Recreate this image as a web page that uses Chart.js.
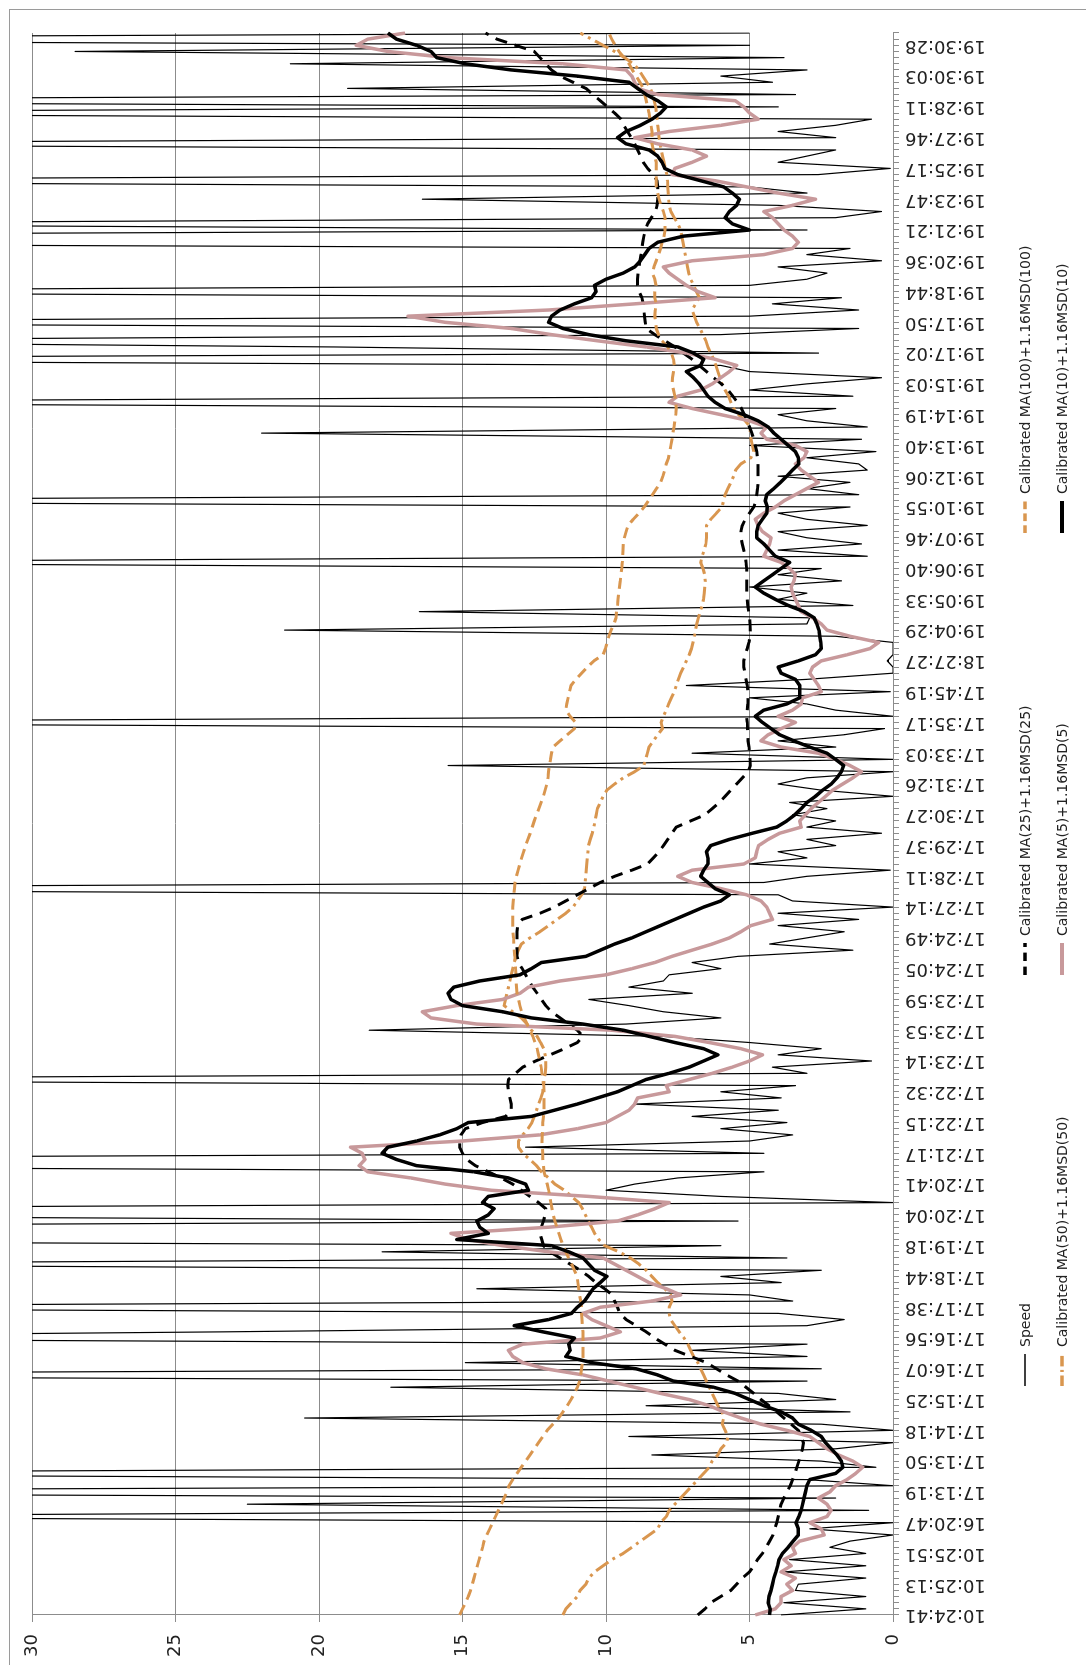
<!DOCTYPE html>
<html>
<head>
<meta charset="utf-8">
<script src="https://cdn.jsdelivr.net/npm/chart.js@4.4.1/dist/chart.umd.min.js"></script>
<style>
  html, body { margin:0; padding:0; background:#fff; width:1086px; height:1665px; overflow:hidden; }
  #frame { position:absolute; left:9px; top:9px; width:1200px; height:1800px; border-left:1px solid #9a9a9a; border-top:1px solid #9a9a9a; }
  #rot { position:absolute; left:0; top:0; width:1665px; height:1086px; transform-origin:0 0; transform:translate(0px,1665px) rotate(-90deg); }
  #rot canvas { position:absolute; left:0; top:0; }
  .lg { position:absolute; display:flex; align-items:center; height:20px; font-family:"DejaVu Sans"; font-size:14px; color:#222; white-space:nowrap; }
  .lg svg { margin-right:7px; }
</style>
</head>
<body>
<div id="frame"></div>
<div id="rot">
  <canvas id="c" width="1665" height="1086"></canvas>
</div>
<script>
const tickLabels = ["10:24:41","10:25:13","10:25:51","16:20:47","17:13:19","17:13:50","17:14:18","17:15:25","17:16:07","17:16:56","17:17:38","17:18:44","17:19:18","17:20:04","17:20:41","17:21:17","17:22:15","17:22:32","17:23:14","17:23:53","17:23:59","17:24:05","17:24:49","17:27:14","17:28:11","17:29:37","17:30:27","17:31:26","17:33:03","17:35:17","17:45:19","18:27:27","19:04:29","19:05:33","19:06:40","19:07:46","19:10:55","19:12:06","19:13:40","19:14:19","19:15:03","19:17:02","19:17:50","19:18:44","19:20:36","19:21:21","19:23:47","19:25:17","19:27:46","19:28:11","19:30:03","19:30:28"];
const labelEvery = 5;

const speed = [
3.9,0.95,3.8,0.95,3.4,3.3,0.95,3.8,0.95,3.6,0.95,2.2,1.5,0,2.9,0,45,0.85,22.5,2,60,0,3,50,0.6,2.5,8.4,2,0,9.2,0,2.5,20.5,1.5,8.6,2,4,17.5,3,55,2.5,14.9,3,7,
3,48,23.3,3,1.7,4,52,3.5,5,14.5,3.9,6,2.5,45,3.7,17.8,6,60,70,55,5.4,50,48,0,6,10,9,7.5,4.5,52,58,4.5,12.8,5,3.5,6,3.7,7,4,9,3.9,6,
3.4,50,3,4.2,0.75,4,2.5,5,8,18.25,9.3,6,8,9.2,10.6,7,9.2,8,7.8,6,7,5.4,1.4,4.3,3,1.7,4,1.2,4,0,3.5,4,55,4.5,3,0.1,5,3,4,2,3,0.4,3,
2,3.5,2.3,3.6,0,2.5,4,3,0,15.5,0,7,2,4,1.7,0.3,50,0,2,3,5,0.1,7.2,3,0,0,0.2,0,0,0,2,21.2,3,2.9,16.5,1.4,4,3,5,1.8,4,2.5,45,
0.9,4,1.1,3,4,0.9,3,4,1.5,50,1.2,3,1.5,4,0.9,1.2,3,0.6,5,1.1,22,0.9,3,4,2,48,1.4,5,3,0.4,5,6,55,2.6,19.5,45,6,1.2,52,5,1.2,4.2,1.8,
50,5,3,2.3,4,0.4,3,1.5,60,55,3,45,2,0.4,4,16.4,3,5,52,2.6,0.1,4,3,2,48,2,4,2,0.75,50,4,55,3.4,19,4.2,6,3,21,3.8,28.5,5,60,5
];

const ma50 = [
11.5,11.4,11.2,11.0,10.9,10.7,10.6,10.4,10.1,9.8,9.4,9.1,8.8,8.5,8.2,8.1,7.9,7.8,7.6,7.4,7.2,7.0,6.8,6.6,6.4,6.3,6.1,6.0,5.8,5.75,5.85,5.95,5.9,5.95,6.1,6.2,6.3,6.4,6.5,6.6,6.7,6.8,6.95,7.05,
7.15,7.28,7.45,7.6,7.75,7.8,7.8,7.7,7.75,7.95,8.2,8.4,8.6,8.85,9.15,9.55,10.05,10.25,10.4,10.5,10.62,10.72,10.82,10.95,11.2,11.45,11.78,12.0,12.25,12.42,12.65,12.9,13.05,13.05,12.9,12.72,12.58,12.5,12.42,12.35,12.27,12.2,
12.18,12.15,12.12,12.1,12.1,12.12,12.17,12.28,12.4,12.6,12.75,12.95,13.25,13.55,13.5,13.45,13.4,13.35,13.3,13.25,13.2,13.13,13.05,12.95,12.65,12.3,12.0,11.7,11.4,11.15,11.0,10.85,10.75,10.73,10.71,10.69,10.67,10.65,10.63,10.61,10.55,10.48,10.42,
10.38,10.34,10.3,10.2,10.1,9.97,9.7,9.4,9.0,8.68,8.62,8.56,8.5,8.35,8.2,8.03,8.08,8.0,7.9,7.82,7.72,7.62,7.55,7.48,7.4,7.3,7.2,7.1,7.02,6.97,6.92,6.88,6.84,6.78,6.72,6.65,6.6,6.58,6.56,6.54,6.56,6.62,6.7,
6.65,6.58,6.52,6.5,6.5,6.5,6.35,6.15,5.96,5.9,5.85,5.75,5.65,5.55,5.48,5.3,4.95,4.85,4.9,4.95,4.97,4.97,5.15,5.38,5.55,5.65,5.73,5.85,5.96,6.03,6.1,6.17,6.25,6.35,6.45,6.52,6.62,6.73,6.84,6.92,7.0,6.88,6.75,
6.85,6.95,7.05,7.12,7.16,7.2,7.24,7.28,7.32,7.36,7.4,7.5,7.62,7.74,7.8,7.82,7.83,7.85,7.86,7.88,7.93,7.98,8.03,8.08,8.12,8.15,8.17,8.2,8.22,8.24,8.27,8.32,8.37,8.45,8.58,8.72,8.85,9.05,9.35,9.7,10.1,10.5,10.9
];

const ma25 = [
6.8,6.55,6.35,6.0,5.65,5.45,5.25,5.0,4.85,4.72,4.55,4.42,4.3,4.18,4.12,4.05,4.0,3.95,3.9,3.8,3.7,3.58,3.5,3.42,3.35,3.28,3.22,3.15,3.12,3.2,3.3,3.55,3.8,4.05,4.32,4.6,4.85,5.12,5.4,5.8,6.15,6.5,7.05,7.6,
7.95,8.3,8.6,8.95,9.3,9.52,9.6,9.7,9.78,10.05,10.35,10.6,10.9,11.25,11.6,11.95,12.18,12.24,12.3,12.25,12.18,12.12,12.1,12.35,12.65,12.95,13.25,13.65,14.1,14.55,14.85,15.0,15.1,15.1,15.05,14.9,14.3,13.5,13.3,13.3,13.35,13.4,
13.42,13.4,13.15,12.9,12.45,11.95,11.45,11.0,10.8,11.0,11.3,11.6,11.9,12.1,12.25,12.4,12.55,12.68,12.8,12.92,13.05,13.1,13.1,13.1,13.1,13.1,13.08,12.92,12.3,11.8,11.4,11.0,10.6,10.2,9.7,9.1,8.55,8.35,8.15,8.0,7.85,7.7,7.55,
7.05,6.55,6.3,6.05,5.85,5.65,5.45,5.25,5.05,4.97,4.98,5.0,5.02,5.05,5.06,5.07,5.08,5.1,5.08,5.06,5.05,5.06,5.08,5.12,5.16,5.2,5.2,5.15,5.08,5.02,4.98,4.97,4.98,5.0,5.03,5.06,5.08,5.1,5.1,5.1,5.1,5.1,5.12,
5.15,5.2,5.25,5.3,5.3,5.25,5.15,5.0,4.85,4.78,4.75,4.72,4.7,4.7,4.7,4.7,4.72,4.75,4.8,4.85,4.92,5.0,5.08,5.18,5.28,5.42,5.58,5.75,5.98,6.25,6.5,6.75,7.0,7.3,7.6,7.95,8.3,8.6,8.63,8.66,8.68,8.7,8.75,
8.85,8.9,8.9,8.88,8.85,8.82,8.78,8.75,8.72,8.68,8.63,8.55,8.42,8.28,8.22,8.2,8.2,8.2,8.22,8.35,8.55,8.7,8.8,8.9,9.0,9.12,9.25,9.38,9.48,9.7,9.95,10.2,10.45,10.7,11.15,11.6,11.9,12.1,12.3,12.5,13.15,13.8,14.2
];

const ma5 = [
4.8,4.1,3.9,3.9,3.5,3.7,3.4,3.9,3.55,3.8,3.4,3.5,3.25,2.4,2.5,2.9,2.3,2.16,2.3,2.6,2.2,2.0,1.6,1.3,1.06,1.4,1.9,2.3,2.6,2.9,3.7,4.6,5.3,5.9,6.4,7.1,8.1,9.0,9.9,10.8,12.1,12.9,13.25,13.4,
12.9,10.2,9.5,10.0,10.5,10.8,10.2,8.4,7.4,7.9,8.5,8.9,9.3,9.7,10.1,12.0,13.6,14.8,15.4,12.0,9.6,8.9,8.3,7.8,10.6,14.0,15.6,16.8,18.3,18.6,18.4,18.5,18.9,15.0,12.3,11.0,10.0,9.6,9.2,9.0,8.9,7.8,
7.9,7.1,6.3,5.6,5.0,4.55,5.3,6.4,7.6,9.8,14.5,16.1,16.4,15.2,13.6,13.0,12.7,11.6,10.0,9.1,8.3,7.7,7.0,6.3,5.7,5.3,4.95,4.2,4.3,4.4,4.6,5.1,6.0,7.0,7.5,7.0,5.2,4.8,4.75,4.68,4.35,3.95,3.2,
3.25,3.05,2.85,2.6,2.35,2.1,1.75,1.4,1.1,1.5,2.0,2.6,3.9,4.6,4.35,3.9,3.4,4.0,3.5,3.2,3.15,2.5,2.6,2.75,2.9,2.8,2.5,1.6,0.8,0.5,1.5,2.3,2.5,2.8,3.2,3.3,3.4,3.5,3.55,3.45,3.4,3.6,3.9,
4.5,4.4,4.3,4.25,4.55,4.7,4.8,4.5,4.1,3.8,3.4,3.0,2.6,2.9,3.2,3.4,3.1,3.0,3.4,4.4,4.6,4.4,5.0,6.0,7.0,7.8,7.5,6.7,6.3,6.0,5.7,5.45,6.2,7.2,8.6,10.3,11.9,13.3,15.6,16.9,12.0,9.0,6.2,
6.8,7.2,7.5,7.8,8.0,7.0,4.5,3.5,3.3,3.5,3.8,4.0,4.2,4.5,3.5,2.7,4.0,5.1,6.2,7.7,7.6,7.0,6.5,7.0,8.2,9.0,7.8,6.0,4.7,5.0,5.2,5.5,8.2,8.9,9.0,9.1,9.3,11.5,15.5,17.6,18.7,18.3,17.0
];

const ma100 = [
15.1,15.0,14.9,14.8,14.72,14.66,14.6,14.54,14.48,14.42,14.36,14.3,14.25,14.15,14.05,13.95,13.85,13.75,13.65,13.55,13.45,13.38,13.25,13.1,12.95,12.8,12.65,12.5,12.35,12.2,12.05,11.85,11.65,11.5,11.35,11.22,11.1,11.0,10.92,10.88,10.85,10.82,10.8,10.8,
10.8,10.8,10.8,10.82,10.84,10.85,10.85,10.88,10.92,10.95,10.98,11.0,11.1,11.2,11.3,11.4,11.5,11.57,11.64,11.71,11.78,11.84,11.88,11.92,11.96,12.0,12.05,12.1,12.16,12.18,12.2,12.2,12.22,12.23,12.22,12.2,12.2,12.18,12.16,12.16,12.16,12.16,
12.17,12.2,12.23,12.26,12.3,12.35,12.4,12.47,12.55,12.65,12.75,12.85,12.94,13.0,13.05,13.1,13.12,13.13,13.14,13.15,13.17,13.18,13.2,13.21,13.22,13.24,13.25,13.25,13.25,13.25,13.23,13.21,13.19,13.17,13.12,13.06,13.0,12.94,12.87,12.8,12.72,12.64,12.57,
12.5,12.42,12.34,12.26,12.18,12.12,12.06,12.02,12.0,11.97,11.93,11.9,11.85,11.6,11.35,11.1,11.06,11.25,11.4,11.37,11.32,11.27,11.22,11.05,10.85,10.65,10.42,10.1,10.02,9.96,9.9,9.82,9.72,9.65,9.63,9.6,9.58,9.56,9.53,9.5,9.48,9.45,9.43,
9.42,9.41,9.4,9.36,9.3,9.23,9.05,8.85,8.67,8.52,8.38,8.24,8.1,8.02,7.95,7.9,7.82,7.78,7.74,7.7,7.67,7.63,7.6,7.57,7.55,7.57,7.6,7.65,7.7,7.68,7.65,7.62,7.65,7.72,7.85,8.05,8.17,8.25,8.27,8.3,8.28,8.25,8.3,
8.3,8.26,8.3,8.38,8.33,8.25,8.17,8.1,8.04,7.98,7.94,7.94,7.94,8.0,8.08,8.15,8.2,8.25,8.25,8.25,8.25,8.25,8.3,8.35,8.4,8.4,8.4,8.43,8.47,8.5,8.55,8.6,8.65,8.7,8.82,8.95,9.08,9.2,9.37,9.55,9.68,9.8,9.9
];

const ma10 = [
4.3,4.28,4.35,4.32,4.25,4.2,4.15,4.08,4.02,3.97,3.85,3.65,3.48,3.3,3.3,3.38,3.28,3.2,3.15,3.1,3.05,3.0,2.9,2.0,1.75,1.8,1.95,2.15,2.35,2.5,2.85,3.3,3.5,3.9,4.5,5.0,5.5,6.25,7.65,8.2,8.95,10.5,11.4,11.25,
11.3,11.1,12.2,13.2,12.0,11.2,11.0,10.75,10.6,10.45,10.2,9.97,10.4,10.6,10.8,11.3,11.9,15.2,14.1,14.4,14.5,14.1,13.9,14.3,14.1,12.7,12.8,13.4,14.6,16.6,17.3,17.8,17.6,16.6,15.8,15.2,14.8,12.6,11.8,11.0,10.3,9.6,
9.1,8.6,7.8,7.1,6.6,6.1,6.6,7.6,8.5,9.4,10.8,12.6,13.6,15.0,15.4,15.5,15.3,14.4,13.0,12.6,12.25,10.7,10.2,9.7,9.1,8.6,8.1,7.6,7.1,6.6,6.0,5.7,6.2,6.45,6.7,6.6,6.45,6.45,6.5,6.35,5.7,4.9,4.05,
3.7,3.42,3.2,3.0,2.7,2.45,2.15,1.95,1.8,1.72,2.0,2.3,2.9,3.45,3.95,4.25,4.55,4.8,4.5,3.7,3.25,3.25,3.25,3.4,3.9,4.0,3.3,2.7,2.5,2.52,2.55,2.58,2.65,2.75,3.1,3.65,4.1,4.5,4.8,4.5,4.2,3.9,3.6,
4.1,4.3,4.5,4.75,4.75,4.7,4.55,4.4,4.38,4.45,4.4,4.15,3.92,3.7,3.5,3.28,3.3,3.4,3.65,3.9,4.15,4.35,4.7,5.2,5.85,6.2,6.45,6.6,6.75,6.95,7.2,6.7,6.6,6.95,7.5,9.3,10.6,11.5,12.0,11.9,11.6,11.1,10.5,
10.35,10.4,10.0,9.4,9.0,8.8,8.65,8.5,8.2,7.3,5.0,5.6,5.85,5.7,5.45,5.35,5.6,5.9,6.7,7.5,7.95,8.05,8.2,8.5,9.3,9.6,9.3,8.8,8.4,8.1,7.9,8.2,8.6,8.9,9.2,11.0,13.3,14.9,15.9,16.1,16.6,17.3,17.6
];

const seriesNames = ["Speed","Calibrated MA(50)+1.16MSD(50)","Calibrated MA(25)+1.16MSD(25)","Calibrated MA(5)+1.16MSD(5)","Calibrated MA(100)+1.16MSD(100)","Calibrated MA(10)+1.16MSD(10)"];

const categories = speed.map((_, i) => (i % labelEvery === 0 && tickLabels[i / labelEvery]) ? tickLabels[i / labelEvery] : "");

const ORANGE = "#d9964f";
const PINK = "#c8999b";
const styles = [
  {data: speed, color: "#000", width: 1.2, dash: [], order: 5},
  {data: ma50, color: ORANGE, width: 3, dash: [15, 5, 3, 5], order: 4},
  {data: ma25, color: "#000", width: 3, dash: [12, 8], order: 3},
  {data: ma5, color: PINK, width: 3.5, dash: [], order: 2},
  {data: ma100, color: ORANGE, width: 3, dash: [11, 6], order: 1},
  {data: ma10, color: "#000", width: 3.5, dash: [], order: 0}
];

const datasets = styles.map((s, k) => ({
  label: seriesNames[k],
  data: s.data,
  borderColor: s.color,
  backgroundColor: s.color,
  borderWidth: s.width,
  borderDash: s.dash,
  borderJoinStyle: "round",
  pointRadius: 0,
  pointHoverRadius: 0,
  tension: 0,
  fill: false,
  order: s.order
}));

const GRID = "#8c8c8c";
new Chart(document.getElementById("c"), {
  type: "line",
  data: { labels: categories, datasets },
  options: {
    responsive: false,
    devicePixelRatio: 1,
    animation: false,
    events: [],
    layout: { padding: { top: 32, right: 33, bottom: 86, left: 0 } },
    plugins: { legend: { display: false }, tooltip: { enabled: false } },
    scales: {
      x: {
        type: "category",
        offset: false,
        afterFit: (s) => { s.height = 107; },
        grid: { drawOnChartArea: false, drawTicks: true, tickLength: 6, color: GRID },
        border: { display: true, color: GRID, width: 1 },
        ticks: {
          autoSkip: false, minRotation: 90, maxRotation: 90, padding: 6,
          color: "#222", font: { family: "DejaVu Sans", size: 18 },
          callback: (v, i) => categories[i]
        }
      },
      y: {
        min: 0, max: 30,
        afterFit: (s) => { s.width = 50; },
        grid: { color: GRID, lineWidth: 1, tickLength: 7, drawTicks: true },
        border: { display: true, color: GRID, width: 1 },
        ticks: { stepSize: 5, padding: 12, color: "#222", font: { family: "DejaVu Sans", size: 18 } }
      }
    }
  }
});

// legend (3 columns x 2 rows), placed in the same rotated frame as the chart
const legendOrder = [0, 2, 4, 1, 3, 5];
const legendCols = [279, 690, 1132];
const legendRows = [1015, 1052];
const rot = document.getElementById("rot");
legendOrder.forEach((k, n) => {
  const s = styles[k];
  const div = document.createElement("div");
  div.className = "lg";
  div.style.left = legendCols[n % 3] + "px";
  div.style.top = legendRows[Math.floor(n / 3)] + "px";
  const dash = s.dash.length ? ` stroke-dasharray="${s.dash.map(d => Math.max(2, d * 0.7)).join(" ")}"` : "";
  div.innerHTML = `<svg width="32" height="20"><line x1="0" y1="10" x2="32" y2="10" stroke="${s.color}" stroke-width="${s.width + (k === 0 ? 0.3 : 0.5)}"${dash}/></svg>`;
  const span = document.createElement("span");
  span.textContent = seriesNames[k];
  div.appendChild(span);
  rot.appendChild(div);
});
</script>
</body>
</html>
